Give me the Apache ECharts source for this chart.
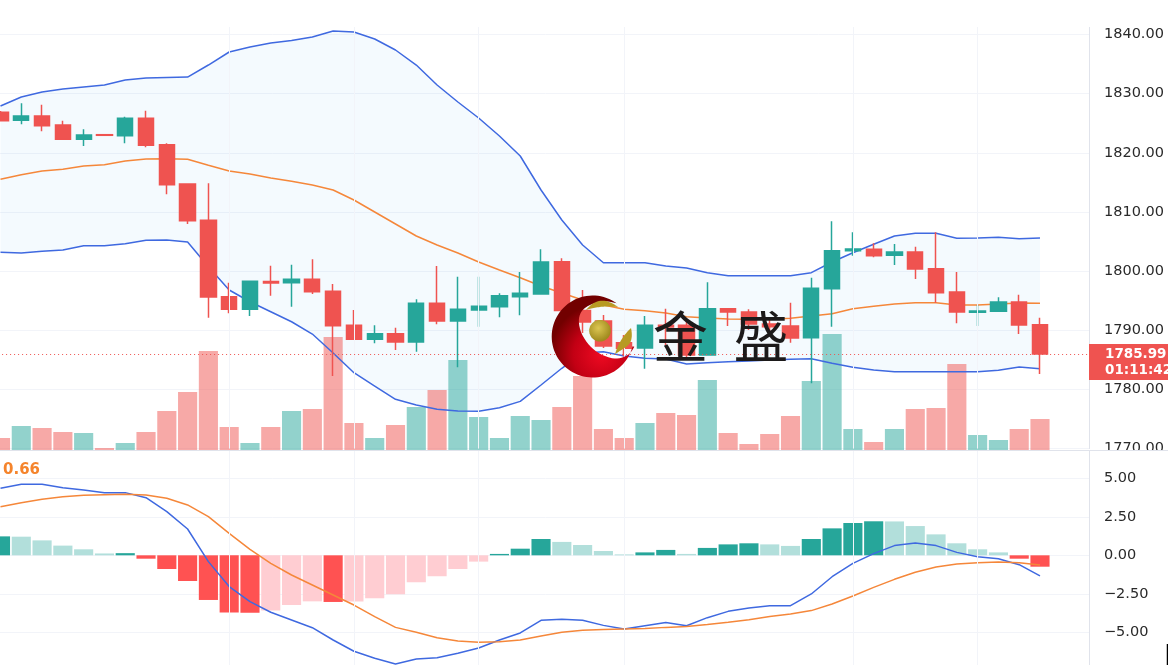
<!DOCTYPE html>
<html><head><meta charset="utf-8">
<style>html,body{margin:0;padding:0;background:#fff;overflow:hidden}#c{width:1168px;height:665px}</style>
<script src="https://cdn.jsdelivr.net/npm/echarts@6/dist/echarts.min.js"></script>
</head><body><div id="c"></div>
<script>
const opens=[1826.84,1825.49,1826.22,1824.70,1822.28,1823.06,1822.89,1825.83,1821.37,1814.72,1808.59,1795.67,1793.54,1798.24,1798.04,1798.61,1796.58,1790.83,1788.47,1789.41,1788.01,1794.55,1791.56,1793.42,1793.98,1795.67,1796.13,1801.59,1793.34,1791.56,1787.89,1787.00,1790.83,1790.83,1785.81,1793.64,1793.08,1791.05,1790.72,1788.74,1797.02,1803.45,1803.68,1802.67,1803.23,1800.40,1796.46,1793.03,1793.20,1794.77,1790.94];
const closes=[1825.42,1826.22,1824.58,1822.28,1823.01,1822.96,1825.83,1821.27,1814.60,1808.52,1795.62,1793.54,1798.27,1797.99,1798.61,1796.51,1790.77,1788.47,1789.41,1788.01,1794.55,1791.56,1793.54,1794.05,1795.84,1796.24,1801.54,1793.34,1791.39,1787.34,1786.95,1790.83,1790.55,1785.81,1793.64,1793.08,1791.05,1790.60,1788.69,1797.09,1803.45,1803.73,1802.60,1803.23,1800.35,1796.35,1793.08,1793.25,1794.77,1790.89,1785.99];
const lows=[1825.37,1824.82,1823.63,1822.16,1821.15,1822.96,1821.60,1820.93,1812.98,1807.96,1792.12,1792.86,1792.41,1795.84,1793.98,1796.13,1782.26,1788.47,1787.79,1786.66,1786.37,1791.00,1783.73,1790.60,1792.19,1792.53,1796.13,1793.34,1789.53,1787.00,1785.60,1783.50,1787.50,1785.31,1785.81,1790.72,1790.04,1789.30,1787.89,1781.03,1790.60,1802.60,1802.33,1801.03,1798.66,1794.66,1791.17,1790.72,1793.20,1789.36,1782.60];
const highs=[1827.06,1828.37,1828.13,1825.42,1823.97,1823.06,1826.10,1827.11,1821.60,1814.72,1814.84,1798.04,1798.27,1800.91,1801.08,1801.99,1797.82,1793.42,1790.83,1790.43,1795.23,1800.86,1799.05,1799.05,1796.24,1799.85,1803.68,1802.16,1796.80,1792.58,1789.20,1792.41,1793.64,1791.73,1798.10,1793.64,1793.54,1792.00,1794.66,1798.88,1808.42,1806.56,1804.70,1804.58,1804.12,1806.56,1799.85,1794.27,1795.57,1796.01,1792.12];
const bbUpper=[1827.91,1829.43,1830.28,1830.78,1831.12,1831.46,1832.31,1832.64,1832.73,1832.81,1834.84,1837.04,1837.88,1838.56,1838.98,1839.57,1840.59,1840.42,1839.24,1837.38,1834.84,1831.46,1828.59,1825.88,1822.84,1819.46,1813.71,1808.64,1804.41,1801.42,1801.42,1801.42,1800.86,1800.52,1799.73,1799.22,1799.22,1799.22,1799.22,1799.73,1801.54,1803.11,1804.53,1805.93,1806.39,1806.39,1805.54,1805.59,1805.71,1805.48,1805.59];
const bbMid=[1815.52,1816.30,1816.92,1817.21,1817.77,1817.99,1818.61,1818.95,1819.00,1818.90,1817.88,1816.92,1816.41,1815.74,1815.18,1814.55,1813.71,1812.02,1809.99,1807.96,1805.93,1804.41,1803.06,1801.54,1800.18,1798.88,1797.48,1796.30,1795.11,1794.27,1793.54,1793.30,1792.91,1792.29,1792.07,1791.90,1791.85,1791.85,1792.02,1792.41,1792.80,1793.64,1794.05,1794.44,1794.66,1794.66,1794.27,1794.27,1794.44,1794.61,1794.55];
const bbLower=[1803.18,1803.06,1803.34,1803.56,1804.29,1804.29,1804.63,1805.21,1805.26,1804.92,1800.74,1796.80,1794.82,1793.13,1791.44,1789.36,1786.15,1782.82,1780.57,1778.32,1777.36,1776.63,1776.35,1776.30,1776.90,1777.98,1780.74,1783.57,1786.15,1786.37,1785.64,1785.26,1785.14,1784.29,1784.51,1784.68,1784.80,1784.97,1785.09,1785.19,1784.41,1783.73,1783.28,1782.99,1782.99,1782.99,1782.99,1782.99,1783.23,1783.78,1783.50];
const volumes=[12,24,22,18,17,2,7,18,39,58,99,23,7,23,39,41,113,27,12,25,43,60,90,33,12,34,30,43,74,21,12,27,37,35,70,17,6,16,34,69,116,21,8,21,41,42,86,15,10,21,31];
const macdHist=[1.23,1.21,0.97,0.63,0.39,0.12,0.14,-0.22,-0.89,-1.67,-2.90,-3.72,-3.73,-3.59,-3.23,-2.99,-3.03,-3.00,-2.79,-2.53,-1.75,-1.36,-0.89,-0.41,0.09,0.43,1.06,0.87,0.67,0.28,0.06,0.19,0.35,0.09,0.48,0.71,0.78,0.71,0.61,1.06,1.75,2.10,2.21,2.20,1.90,1.36,0.78,0.39,0.19,-0.22,-0.74];
const macdLine=[4.35,4.61,4.61,4.39,4.24,4.07,4.07,3.74,2.84,1.71,-0.41,-2.03,-3.01,-3.70,-4.20,-4.70,-5.50,-6.23,-6.69,-7.06,-6.73,-6.65,-6.36,-6.02,-5.50,-5.04,-4.22,-4.16,-4.22,-4.55,-4.78,-4.57,-4.37,-4.57,-4.05,-3.64,-3.42,-3.27,-3.27,-2.51,-1.39,-0.52,0.11,0.63,0.80,0.63,0.19,-0.09,-0.22,-0.61,-1.34];
const signalLine=[3.16,3.42,3.64,3.81,3.90,3.94,3.96,3.92,3.70,3.27,2.51,1.43,0.39,-0.52,-1.28,-1.93,-2.58,-3.23,-3.98,-4.68,-5.00,-5.35,-5.56,-5.65,-5.61,-5.50,-5.24,-5.00,-4.87,-4.81,-4.78,-4.76,-4.68,-4.63,-4.50,-4.35,-4.18,-3.98,-3.81,-3.59,-3.16,-2.64,-2.08,-1.56,-1.10,-0.76,-0.56,-0.48,-0.43,-0.48,-0.63];
const categories=['0','1','2','3','4','5','6','7','8','9','10','11','12','13','14','15','16','17','18','19','20','21','22','23','24','25','26','27','28','29','30','31','32','33','34','35','36','37','38','39','40','41','42','43','44','45','46','47','48','49','50','51','52'];
const timeGridBars=['11','17','23','30','41','47'];
const lastPrice=1785.99;
const countdown='01:11:42';
const macdValueLabel='0.66';

const TEAL='#26a69a',RED='#ef5350',BLUE='#3f69e0',ORANGE='#f5873a',GRID='#f2f4f9',AXIS='#e0e3eb',FONT='"DejaVu Sans",sans-serif';
const candles=opens.map((o,i)=>[o,closes[i],lows[i],highs[i]]);
const volBars=volumes.map((v,i)=>({value:v,itemStyle:{color:closes[i]>=opens[i]?'rgba(38,166,154,.5)':'rgba(239,83,80,.5)'}}));
const histBars=macdHist.map((v,i)=>{
  const p=i?macdHist[i-1]:-Infinity;
  const c=v>=0?(v>=p?TEAL:'#b2dfdb'):(v<p?'#ff5252':'#ffcdd2');
  return {value:v,itemStyle:{color:c}};
});
const band=bbUpper.map((u,i)=>u-bbLower[i]);
const vMarks=timeGridBars.map(c=>({xAxis:c}));
const vLine={silent:true,symbol:'none',label:{show:false},animation:false,lineStyle:{color:GRID,width:1,type:'solid'},data:vMarks};
const line=(name,data,color,x,y,z)=>({name,type:'line',data,xAxisIndex:x,yAxisIndex:y,symbol:'none',z,lineStyle:{color,width:1.5},silent:true});
const gridBase={left:-9.9,width:1101.87,outerBoundsMode:'none',containLabel:false};
const axisLabel={color:'#2a2a2a',fontFamily:FONT,fontSize:14.5,margin:15,padding:[2,0,0,0]};

// logo outlines sampled into polygons
function arc(cx,cy,r,a0,a1,n){const o=[];for(let i=0;i<=n;i++){const a=a0+(a1-a0)*i/n;o.push([cx+r*Math.cos(a),cy+r*Math.sin(a)]);}return o;}
function quad(p0,p1,p2,n){const o=[];for(let i=1;i<=n;i++){const t=i/n,u=1-t;o.push([u*u*p0[0]+2*u*t*p1[0]+t*t*p2[0],u*u*p0[1]+2*u*t*p1[1]+t*t*p2[1]]);}return o;}
function curve(start,segs){let pts=[start],c=start;segs.forEach(s=>{pts=pts.concat(quad(c,s[0],s[1],12));c=s[1];});return pts;}
const oc=[592.7,336.5];
const a0=Math.atan2(303.3-oc[1],616.7-oc[0]),a1=Math.atan2(346.7-oc[1],634.3-oc[0])-Math.PI*2;
const crescent=arc(oc[0],oc[1],41,a0,a1,72).concat(curve([634.3,346.7],[[[628,360],[612,358.3]],[[590,353],[581,332]],[[574,312],[590,305]],[[603,299],[616.7,303.3]]]));
const leafA=curve([586,310],[[[595,299],[606,301]],[[613,303],[618,307]],[[606,306],[600,307]],[[592,308],[586,310]]]);
const leafB=curve([615,354],[[[620,338],[631,328]],[[634,342],[626,347]],[[620,351],[615,354]]]);
const ball=arc(600,330.7,10.8,0,Math.PI*2,48);

const chart=echarts.init(document.getElementById('c'),null,{renderer:'canvas',width:1168,height:665});
chart.setOption({
  animation:false,backgroundColor:'#fff',
  grid:[
    Object.assign({top:-24.65,height:473.2},gridBase),
    Object.assign({top:0,height:450},gridBase),
    Object.assign({top:450.6,height:220.2},gridBase)
  ],
  xAxis:[0,1,2].map(g=>({type:'category',gridIndex:g,data:categories,show:false,boundaryGap:true})),
  yAxis:[
    {type:'value',gridIndex:0,position:'right',offset:-3,min:1770,max:1850,interval:10,scale:true,
     axisLine:{show:true,lineStyle:{color:AXIS}},axisTick:{show:false},splitLine:{lineStyle:{color:GRID}},
     axisLabel:Object.assign({formatter:v=>v.toFixed(2)},axisLabel)},
    {type:'value',gridIndex:1,min:0,max:450,show:false,splitLine:{show:false}},
    {type:'value',gridIndex:2,position:'right',offset:-3,min:-7.5,max:6.8,interval:2.5,
     axisLine:{show:true,lineStyle:{color:AXIS}},axisTick:{show:false},splitLine:{lineStyle:{color:GRID}},
     axisLabel:Object.assign({formatter:v=>Math.abs(v)>5.01?'':(v<0?'\u2212':'')+Math.abs(v).toFixed(2),showMaxLabel:false},axisLabel)}
  ],
  series:[
    {name:'bbBase',type:'line',data:bbLower,xAxisIndex:0,yAxisIndex:0,stack:'bb',symbol:'none',z:1,lineStyle:{opacity:0,width:0},silent:true,markLine:vLine},
    {name:'bbBand',type:'line',data:band,xAxisIndex:0,yAxisIndex:0,stack:'bb',symbol:'none',z:1,lineStyle:{opacity:0,width:0},areaStyle:{color:'rgba(33,150,243,.05)',opacity:1},silent:true},
    {name:'volume',type:'bar',data:volBars,xAxisIndex:1,yAxisIndex:1,barWidth:'92%',z:2,silent:true},
    line('bbUpper',bbUpper,BLUE,0,0,3),
    line('bbLower',bbLower,BLUE,0,0,3),
    line('bbMid',bbMid,ORANGE,0,0,3),
    {name:'candles',type:'candlestick',data:candles,xAxisIndex:0,yAxisIndex:0,barWidth:'76%',z:4,silent:true,
     itemStyle:{color:TEAL,color0:RED,borderColor:TEAL,borderColor0:RED,borderWidth:1.5},
     markLine:{silent:true,symbol:'none',animation:false,label:{show:false},
       lineStyle:{color:RED,width:1,type:[1,3]},data:[{yAxis:lastPrice}]}},
    {name:'hist',type:'bar',data:histBars,xAxisIndex:2,yAxisIndex:2,barWidth:'92%',z:2,silent:true,markLine:vLine},
    line('macd',macdLine,BLUE,2,2,3),
    line('signal',signalLine,ORANGE,2,2,3)
  ],
  graphic:[
    {type:'rect',z:50,silent:true,shape:{x:0,y:0,width:1091,height:27},style:{fill:'#fff'}},
    {type:'rect',z:50,silent:true,shape:{x:1090,y:0,width:3,height:665},style:{fill:'#fff'}},
    {type:'rect',z:50,silent:true,shape:{x:1090,y:450,width:78,height:16},style:{fill:'#fff'}},
    {type:'line',z:51,silent:true,shape:{x1:0,y1:450.5,x2:1168,y2:450.5},style:{stroke:AXIS,lineWidth:1}},
    {type:'rect',z:52,silent:true,shape:{x:1089,y:344,width:79,height:36},style:{fill:RED}},
    {type:'text',z:53,silent:true,x:1105,y:354.5,style:{text:lastPrice.toFixed(2),fill:'#fff',font:'bold 13.5px "DejaVu Sans"',textVerticalAlign:'middle',textBaseline:'middle'}},
    {type:'text',z:53,silent:true,x:1105,y:370,style:{text:countdown,fill:'#fff',font:'bold 13.5px "DejaVu Sans"',textVerticalAlign:'middle',textBaseline:'middle'}},
    {type:'text',z:53,silent:true,x:3,y:470,style:{text:macdValueLabel,fill:'#f5842c',font:'bold 15px "DejaVu Sans"',textVerticalAlign:'middle',textBaseline:'middle'}},
    {type:'line',z:53,silent:true,shape:{x1:1167.5,y1:644,x2:1167.5,y2:665},style:{stroke:'#000',lineWidth:1.5}},
    {type:'polygon',z:60,silent:true,shape:{points:crescent},
      style:{fill:{type:'radial',x:.6,y:.72,r:.62,colorStops:[{offset:0,color:'#ee0a22'},{offset:.55,color:'#c30014'},{offset:1,color:'#720000'}]}}},
    {type:'polygon',z:61,silent:true,shape:{points:ball},
      style:{fill:{type:'radial',x:.42,y:.38,r:.6,colorStops:[{offset:0,color:'#dcc652'},{offset:1,color:'#a08a1e'}]}}},
    {type:'polygon',z:61,silent:true,shape:{points:leafA},style:{fill:'#b79a23'}},
    {type:'polygon',z:61,silent:true,shape:{points:leafB},style:{fill:'#b79a23'}},
    {type:'text',z:62,silent:true,x:680.5,y:336,style:{text:'金',fill:'#1c1a1a',font:'400 55px "Noto Sans CJK SC"',textAlign:'center',textVerticalAlign:'middle',textBaseline:'middle'}},
    {type:'text',z:62,silent:true,x:761,y:336,style:{text:'盛',fill:'#1c1a1a',font:'400 55px "Noto Sans CJK SC"',textAlign:'center',textVerticalAlign:'middle',textBaseline:'middle'}}
  ]
});
</script></body></html>
